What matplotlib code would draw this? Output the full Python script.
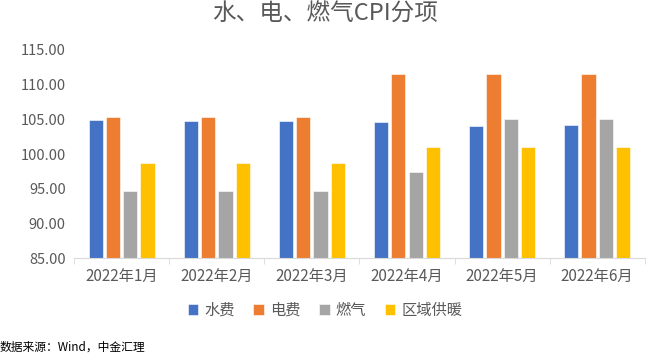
import numpy as np
import matplotlib.pyplot as plt

plt.rcParams['font.family'] = ['Noto Sans CJK SC', 'DejaVu Sans']

# data
months = ['2022年1月', '2022年2月', '2022年3月', '2022年4月', '2022年5月', '2022年6月']
water = [104.9, 104.7, 104.7, 104.6, 104.0, 104.2]
power = [105.4, 105.4, 105.4, 111.5, 111.5, 111.5]
gas = [94.7, 94.7, 94.7, 97.4, 105.0, 105.0]
heating = [98.7, 98.7, 98.7, 101.0, 101.0, 101.0]

names = ['水费', '电费', '燃气', '区域供暖']
colors = ['#4472C4', '#ED7D31', '#A5A5A5', '#FFC000']
txt = '#595959'

fig = plt.figure(figsize=(6.5, 3.62), dpi=100)
ax = fig.add_axes([0.114, 0.287, 0.878, 0.575])

x = np.arange(len(months))
w = 0.15
step = 0.182
for i, (vals, name, c) in enumerate(zip([water, power, gas, heating], names, colors)):
    ax.bar(x + (i - 1.5) * step, vals, width=w, color=c, label=name,
           edgecolor='white', linewidth=0.4)

ax.set_ylim(85, 115)
ax.set_yticks(np.arange(85, 116, 5))
ax.set_yticklabels(['%.2f' % v for v in np.arange(85, 116, 5)], color=txt, fontsize=10.5)
ax.set_xlim(-0.5, len(months) - 0.5)
ax.set_xticks(x)
ax.set_xticklabels(months, color=txt, fontsize=11)
ax.set_xticks(np.arange(-0.5, len(months)), minor=True)
ax.tick_params(axis='x', which='major', length=0, pad=7)
ax.tick_params(axis='x', which='minor', length=4, color='#d9d9d9')
ax.tick_params(axis='y', length=0, pad=6)
for s in ['top', 'right', 'left']:
    ax.spines[s].set_visible(False)
ax.spines['bottom'].set_color('#d9d9d9')

fig.text(0.5, 0.96, '水、电、燃气CPI分项', ha='center', va='center',
         fontsize=17, color=txt)

fig.legend(loc='center', bbox_to_anchor=(0.5, 0.143), ncol=4, frameon=False,
           fontsize=11, handlelength=0.7, handleheight=0.7, handletextpad=0.4,
           columnspacing=1.2, labelcolor=txt)

fig.text(0.0, 0.04, '数据来源：Wind，中金汇理', ha='left', va='center',
         fontsize=8.5, color='black')

fig.savefig('out.png', dpi=100)
